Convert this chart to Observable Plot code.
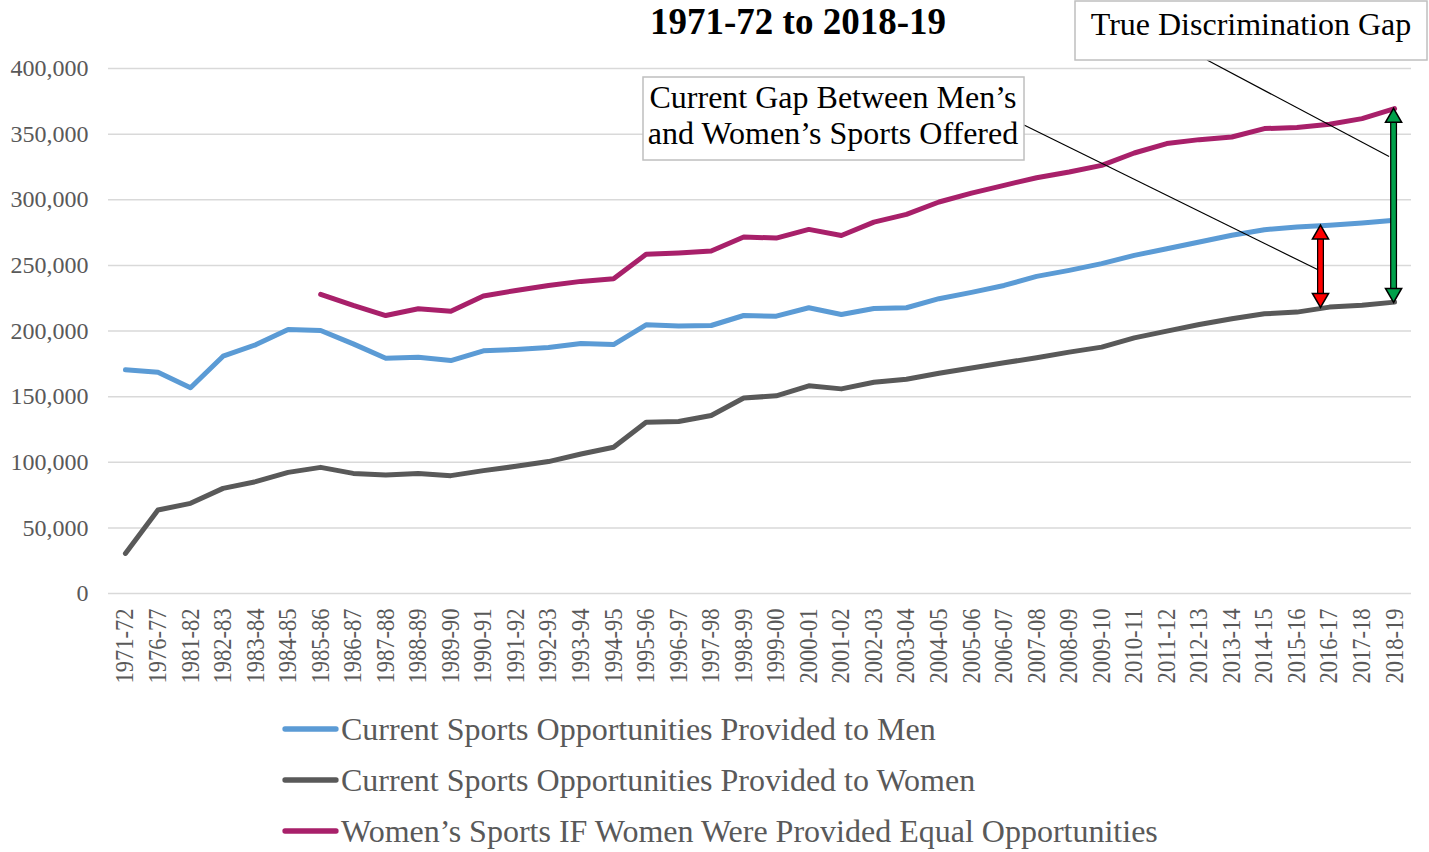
<!DOCTYPE html>
<html><head><meta charset="utf-8">
<script src="https://cdn.jsdelivr.net/npm/d3@7"></script>
<script src="https://cdn.jsdelivr.net/npm/@observablehq/plot@0.6"></script>
<style>
body{margin:0;background:#fff;}
#chart svg, #legend svg{display:block}
</style>
</head><body><div id="chart"></div><div id="legend"></div>
<script>
const categories = ["1971-72","1976-77","1981-82","1982-83","1983-84","1984-85","1985-86","1986-87","1987-88","1988-89","1989-90","1990-91","1991-92","1992-93","1993-94","1994-95","1995-96","1996-97","1997-98","1998-99","1999-00","2000-01","2001-02","2002-03","2003-04","2004-05","2005-06","2006-07","2007-08","2008-09","2009-10","2010-11","2011-12","2012-13","2013-14","2014-15","2015-16","2016-17","2017-18","2018-19"];
const men = [170400,168600,156700,180800,189500,201200,200400,190200,179300,180000,177500,184900,185900,187400,190500,189700,204700,203900,204200,211800,211300,217700,212600,217200,217700,224600,229400,234700,241600,246200,251300,257600,262700,267800,272900,277200,279200,280500,282200,284300];
const women = [30500,63600,68700,80100,85200,92300,96100,91500,90300,91500,89800,93600,96900,100500,106300,111400,130500,131000,135600,149000,150600,158200,155900,161000,163300,167800,171800,175800,179600,183900,187700,194800,199900,205000,209300,213100,214400,218200,219700,222000];
const equalWomen = [null,null,null,null,null,null,227900,219500,211800,216900,215100,226700,230900,234700,237800,239800,258400,259400,260900,271600,270800,277400,272800,283000,288900,298300,305000,311000,316800,321100,326200,335600,342800,345800,347800,354200,355000,357500,361800,369400];
const seriesNames = ["Current Sports Opportunities Provided to Men","Current Sports Opportunities Provided to Women","Women\u2019s Sports IF Women Were Provided Equal Opportunities"];
const seriesColors = ["#5b9bd5","#595959","#a8206a"];
const yTicks = [0,50000,100000,150000,200000,250000,300000,350000,400000];
const titleText = "1971-72 to 2018-19";
const gapLabel1 = ["Current Gap Between Men\u2019s","and Women\u2019s Sports Offered"];
const gapLabel2 = "True Discrimination Gap";

const serif = "'Liberation Serif','Times New Roman',serif";
const rows = [];
[men, women, equalWomen].forEach((arr, s) => {
  categories.forEach((c, i) => rows.push({cat: c, series: seriesNames[s], value: arr[i]}));
});

const iRed = categories.indexOf("2016-17");
const iGreen = categories.indexOf("2018-19");
const redGap = {cat: categories[iRed], low: women[iRed], high: men[iRed]};
const greenGap = {cat: categories[iGreen], low: women[iGreen], high: equalWomen[iGreen]};

function arrowMarks(a, color, dx) {
  const d = [a];
  return [
    Plot.ruleX(d, {x: "cat", y1: "high", y2: "low", stroke: "#000", strokeWidth: 7, insetTop: 10, insetBottom: 10, dx}),
    Plot.ruleX(d, {x: "cat", y1: "high", y2: "low", stroke: color, strokeWidth: 4.5, insetTop: 8, insetBottom: 8, dx}),
    Plot.dot(d, {x: "cat", y: "high", symbol: "triangle", r: 6, fill: color, stroke: "#000", strokeWidth: 1.5, dx, dy: 9}),
    Plot.dot(d, {x: "cat", y: "low", symbol: "triangle", r: 6, rotate: 180, fill: color, stroke: "#000", strokeWidth: 1.5, dx, dy: -9})
  ];
}

function annotations(index, scales) {
  const g = d3.create("svg:g").attr("font-family", serif);
  const rx = scales.x(redGap.cat) - 11, ry = scales.y(redGap.low + 0.45 * (redGap.high - redGap.low));
  const gx = scales.x(greenGap.cat) - 5, gy = scales.y(greenGap.low + 0.75 * (greenGap.high - greenGap.low));
  g.append("line").attr("x1", 1024).attr("y1", 125).attr("x2", rx).attr("y2", ry).attr("stroke", "#000").attr("stroke-width", 1.2);
  g.append("line").attr("x1", 1207).attr("y1", 60).attr("x2", gx).attr("y2", gy).attr("stroke", "#000").attr("stroke-width", 1.2);
  g.append("rect").attr("x", 643).attr("y", 77).attr("width", 381).attr("height", 83).attr("fill", "#fff").attr("stroke", "#bfbfbf").attr("stroke-width", 1.5);
  g.append("text").attr("x", 833).attr("y", 108).attr("text-anchor", "middle").attr("font-size", 32).attr("fill", "#000").text(gapLabel1[0]);
  g.append("text").attr("x", 833).attr("y", 144).attr("text-anchor", "middle").attr("font-size", 32).attr("fill", "#000").text(gapLabel1[1]);
  g.append("rect").attr("x", 1075).attr("y", 1).attr("width", 352).attr("height", 59).attr("fill", "#fff").attr("stroke", "#bfbfbf").attr("stroke-width", 1.5);
  g.append("text").attr("x", 1251).attr("y", 35).attr("text-anchor", "middle").attr("font-size", 32).attr("fill", "#000").text(gapLabel2);
  g.append("text").attr("x", 798).attr("y", 34).attr("text-anchor", "middle").attr("font-size", 37).attr("font-weight", "bold").attr("fill", "#000").text(titleText);
  return g.node();
}

const chart = Plot.plot({
  width: 1429,
  height: 700,
  marginLeft: 108,
  marginRight: 18,
  marginTop: 68,
  marginBottom: 107,
  style: {fontFamily: serif, background: "#fff", overflow: "visible"},
  x: {type: "point", domain: categories, padding: 0.52, round: false, label: null},
  y: {domain: [0, 400000], label: null},
  marks: [
    Plot.gridY(yTicks, {stroke: "#d9d9d9", strokeOpacity: 1, strokeWidth: 1.5}),
    Plot.axisY(yTicks, {tickFormat: d3.format(","), tickSize: 0, tickPadding: 20, fontSize: 24, fill: "#595959", label: null}),
    Plot.axisX({tickRotate: -90, tickSize: 0, tickPadding: 15, fontSize: 25, fill: "#595959", label: null}),
    Plot.line(rows, {x: "cat", y: "value", z: "series", stroke: "series", strokeWidth: 5, strokeLinejoin: "round", strokeLinecap: "round"}),
    ...arrowMarks(redGap, "#ff0000", -9),
    ...arrowMarks(greenGap, "#00a04a", -1),
    annotations
  ],
  color: {domain: seriesNames, range: seriesColors}
});
document.getElementById("chart").appendChild(chart);
// condensed x tick labels as in the original
d3.select(chart).selectAll('g[aria-label="x-axis tick label"] text')
  .attr("textLength", 75).attr("lengthAdjust", "spacingAndGlyphs");

const lg = d3.select("#legend").append("svg").attr("width", 1429).attr("height", 152).attr("font-family", serif);
seriesNames.forEach((name, i) => {
  const cy = 29 + i * 51;
  lg.append("line").attr("x1", 285).attr("x2", 336).attr("y1", cy).attr("y2", cy)
    .attr("stroke", seriesColors[i]).attr("stroke-width", 5.3).attr("stroke-linecap", "round");
  lg.append("text").attr("x", 341).attr("y", cy).attr("dy", "0.35em").attr("font-size", 32).attr("fill", "#595959").text(name);
});
</script>
</body></html>
